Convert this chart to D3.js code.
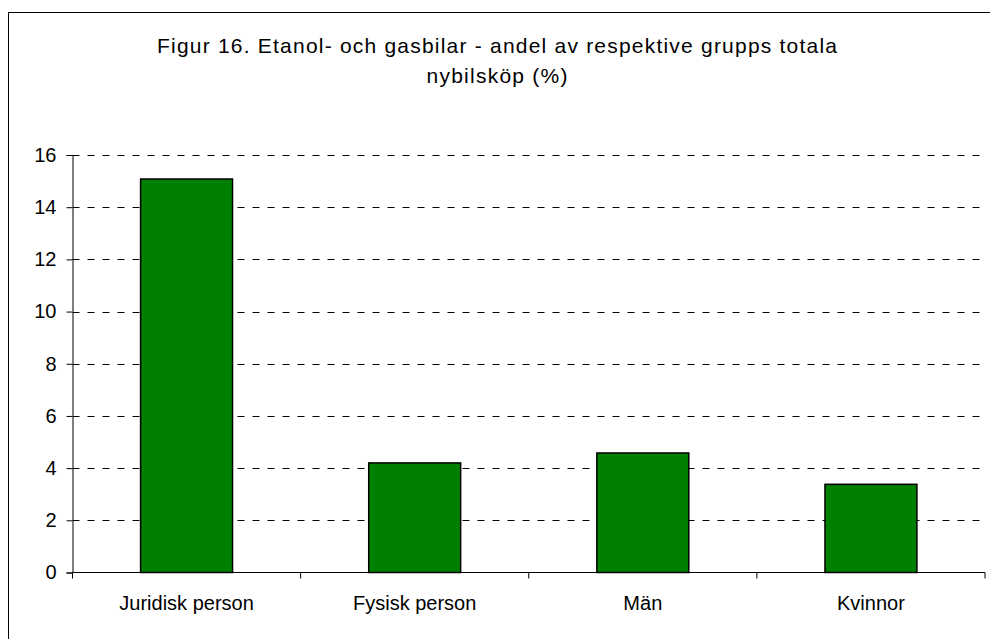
<!DOCTYPE html>
<html>
<head>
<meta charset="utf-8">
<script src="https://d3js.org/d3.v7.min.js"></script>
<style>
  body { margin: 0; background: #fff; }
  text { font-family: Arial, "Liberation Sans", sans-serif; fill: #000; }
</style>
</head>
<body>
<script>
let w = 990;
let h = 639;

// data
let categories = ["Juridisk person", "Fysisk person", "Män", "Kvinnor"];
let values = [15.08, 4.2, 4.58, 3.38];
let yTicks = [0, 2, 4, 6, 8, 10, 12, 14, 16];
let titleLines = ["Figur 16. Etanol- och gasbilar - andel av respektive grupps totala", "nybilsköp (%)"];

let plotLeft = 72.5;
let plotRight = 985;
let plotTop = 155;
let plotBottom = 572.5;

let svg = d3.select("body").append("svg").attr("width", w).attr("height", h);

// outer chart border (runs off the right/bottom edge in the reference)
svg.append("rect")
  .attr("x", 8.5)
  .attr("y", 12.5)
  .attr("width", 1000)
  .attr("height", 700)
  .attr("fill", "#fff")
  .attr("stroke", "#000")
  .attr("stroke-width", 1);

let x = d3.scaleBand().domain(categories).range([plotLeft, plotRight]).paddingInner(0.597).paddingOuter(0.2985);
let xEdge = d3.scaleBand().domain(categories).range([plotLeft, plotRight]);
let y = d3.scaleLinear().domain([0, 16]).range([plotBottom, plotTop]);

// title
svg.selectAll("text.title")
  .data(titleLines)
  .enter()
  .append("text")
  .attr("class", "title")
  .attr("x", 497)
  .attr("y", (d, i) => 53 + i * 30)
  .attr("text-anchor", "middle")
  .style("font-size", "21px")
  .attr("textLength", (d, i) => i == 0 ? 680 : 141)
  .attr("lengthAdjust", "spacing")
  .text((d) => d);

// dashed gridlines
svg.append("g")
  .selectAll("line")
  .data(yTicks.filter((d) => d > 0))
  .enter()
  .append("line")
  .attr("x1", plotLeft)
  .attr("x2", plotRight)
  .attr("y1", (d) => Math.round(y(d)) + 0.5)
  .attr("y2", (d) => Math.round(y(d)) + 0.5)
  .attr("stroke", "#000")
  .attr("stroke-width", 1)
  .attr("stroke-dasharray", "7,8");

// bars
svg.append("g")
  .selectAll("rect")
  .data(values)
  .enter()
  .append("rect")
  .attr("x", (d, i) => x(categories[i]))
  .attr("y", (d) => y(d))
  .attr("width", x.bandwidth())
  .attr("height", (d) => y(0) - y(d))
  .attr("fill", "#008000")
  .attr("stroke", "#000")
  .attr("stroke-width", 1.5);

// y axis
let yAxis = d3.axisLeft(y).tickValues(yTicks).tickSize(6).tickPadding(10).tickFormat(d3.format("d"));
let gy = svg.append("g").attr("transform", "translate(" + plotLeft + ",0)").call(yAxis);
gy.select(".domain").attr("stroke", "#000");
gy.selectAll(".tick line").attr("stroke", "#000");
gy.selectAll(".tick text").style("font-size", "20px").attr("font-family", null);

// x axis, ticks at category boundaries
let gx = svg.append("g").attr("transform", "translate(0," + plotBottom + ")");
gx.append("line")
  .attr("x1", plotLeft)
  .attr("x2", plotRight)
  .attr("stroke", "#000");
gx.selectAll("line.tk")
  .data(categories.concat(["end"]))
  .enter()
  .append("line")
  .attr("class", "tk")
  .attr("x1", (d, i) => i < categories.length ? xEdge(d) : plotRight)
  .attr("x2", (d, i) => i < categories.length ? xEdge(d) : plotRight)
  .attr("y1", 0)
  .attr("y2", 6)
  .attr("stroke", "#000");
gx.selectAll("text")
  .data(categories)
  .enter()
  .append("text")
  .attr("x", (d) => x(d) + x.bandwidth() / 2)
  .attr("y", 37)
  .attr("text-anchor", "middle")
  .style("font-size", "20px")
  .text((d) => d);
</script>
</body>
</html>
